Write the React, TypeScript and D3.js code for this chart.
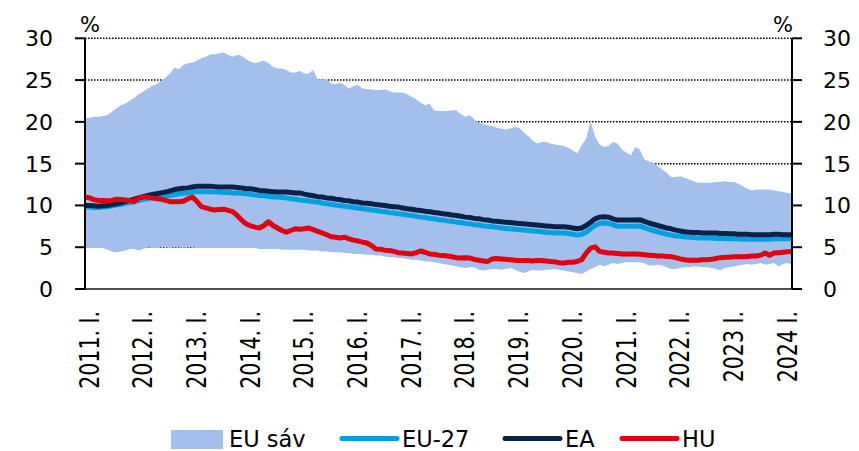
import * as d3 from 'd3';

// havi adatok, 2011. jan. – 2024. márc.
const tickLabels = [
  '2011. I.', '2012. I.', '2013. I.', '2014. I.', '2015. I.', '2016. I.', '2017. I.',
  '2018. I.', '2019. I.', '2020. I.', '2021. I.', '2022. I.', '2023 I.', '2024 I.',
];

const euUpper = [
  20.4, 20.5, 20.6, 20.6, 20.7, 20.8, 21.2, 21.6, 22.0, 22.2, 22.5, 22.9,
  23.3, 23.6, 24.0, 24.3, 24.5, 24.9, 25.3, 25.8, 26.5, 26.3, 26.8, 27.0,
  27.1, 27.3, 27.6, 27.8, 28.1, 28.1, 28.2, 28.3, 28.0, 27.8, 28.0, 27.9,
  27.5, 27.2, 27.0, 27.2, 27.3, 27.0, 26.6, 26.4, 26.4, 26.2, 25.9, 25.9,
  26.1, 25.8, 25.8, 26.2, 25.1, 25.0, 25.2, 24.6, 24.5, 24.7, 24.4, 24.0,
  24.3, 24.4, 24.0, 23.9, 23.9, 23.8, 23.8, 23.9, 23.7, 23.5, 23.5, 23.5,
  23.3, 23.0, 22.7, 22.3, 22.0, 22.2, 21.4, 21.3, 21.3, 21.3, 21.4, 21.4,
  20.9, 20.6, 20.8, 20.3, 19.9, 19.7, 19.6, 19.5, 19.3, 19.2, 19.1, 19.2,
  19.4, 19.3, 18.8, 18.3, 17.8, 17.4, 17.6, 17.6, 17.4, 17.3, 17.2, 17.1,
  16.9, 16.6, 16.2, 17.2, 18.0, 20.1, 18.2, 17.3, 17.0, 17.1, 17.6, 17.4,
  16.7, 16.3, 16.0, 17.0, 16.7, 15.5, 15.3, 15.1, 14.7, 14.3, 13.9, 13.4,
  13.4, 13.5, 13.3, 13.1, 12.9, 12.7, 12.7, 12.7, 12.7, 12.8, 12.8, 12.9,
  12.8, 12.8, 12.6, 12.3, 12.0, 11.8, 11.9, 11.9, 11.9, 11.9, 11.8, 11.7,
  11.6, 11.5, 11.4,
];

const euLower = [
  4.9, 4.9, 4.9, 4.9, 4.9, 4.7, 4.5, 4.4, 4.5, 4.6, 4.8, 4.8,
  4.6, 4.8, 5.0, 4.9, 4.9, 5.0, 5.0, 4.9, 5.0, 5.0, 4.9, 5.0,
  5.0, 4.9, 4.9, 4.9, 4.9, 4.9, 4.9, 4.9, 4.9, 4.9, 4.9, 4.9,
  4.9, 4.9, 4.9, 4.8, 4.8, 4.8, 4.8, 4.8, 4.7, 4.7, 4.7, 4.7,
  4.7, 4.7, 4.6, 4.6, 4.6, 4.5, 4.5, 4.4, 4.4, 4.4, 4.3, 4.3,
  4.2, 4.2, 4.2, 4.1, 4.1, 4.0, 4.0, 3.9, 3.8, 3.8, 3.7, 3.7,
  3.6, 3.5, 3.5, 3.4, 3.3, 3.3, 3.2, 3.1, 3.0, 2.9, 2.8, 2.7,
  2.6, 2.5, 2.6, 2.6, 2.3, 2.2, 2.3, 2.4, 2.4, 2.3, 2.4, 2.5,
  2.3, 2.1, 1.9, 2.1, 2.3, 2.2, 2.2, 2.3, 2.3, 2.4, 2.3, 2.2,
  2.1, 2.0, 1.9, 1.8, 2.1, 2.4, 2.6, 2.9, 2.7, 2.9, 3.1, 3.0,
  3.1, 3.2, 3.2, 3.2, 3.2, 3.1, 2.8, 2.8, 2.9, 2.8, 2.6, 2.4,
  2.4, 2.5, 2.6, 2.6, 2.7, 2.7, 2.6, 2.6, 2.5, 2.4, 2.2, 2.5,
  2.6, 2.7, 2.8, 2.9, 3.0, 2.9, 3.0, 3.1, 2.9, 3.0, 3.1, 2.7,
  3.0, 3.1, 2.9,
];

const eu27 = [
  9.8, 9.8, 9.75, 9.75, 9.8, 9.85, 9.95, 10.05, 10.15, 10.25, 10.35, 10.45,
  10.6, 10.7, 10.8, 10.9, 10.95, 11.05, 11.15, 11.2, 11.3, 11.4, 11.45, 11.5,
  11.6, 11.65, 11.65, 11.65, 11.65, 11.6, 11.6, 11.55, 11.55, 11.5, 11.5, 11.45,
  11.4, 11.35, 11.25, 11.2, 11.15, 11.1, 11.0, 11.0, 10.95, 10.9, 10.8, 10.75,
  10.65, 10.6, 10.55, 10.45, 10.4, 10.3, 10.2, 10.15, 10.05, 10.0, 9.9, 9.85,
  9.75, 9.7, 9.6, 9.55, 9.45, 9.4, 9.3, 9.25, 9.15, 9.1, 9.0, 8.95,
  8.85, 8.8, 8.7, 8.6, 8.55, 8.45, 8.4, 8.3, 8.25, 8.15, 8.1, 8.0,
  7.95, 7.85, 7.8, 7.7, 7.65, 7.55, 7.5, 7.45, 7.4, 7.3, 7.25, 7.2,
  7.15, 7.1, 7.05, 7.0, 6.95, 6.9, 6.85, 6.8, 6.75, 6.7, 6.7, 6.7,
  6.65, 6.55, 6.45, 6.55, 6.8, 7.2, 7.6, 7.85, 7.9, 7.85, 7.7, 7.5,
  7.5, 7.5, 7.5, 7.5, 7.55, 7.35, 7.15, 7.0, 6.85, 6.7, 6.55, 6.45,
  6.35, 6.3, 6.25, 6.2, 6.15, 6.1, 6.1, 6.1, 6.1, 6.05, 6.05, 6.05,
  6.0, 6.0, 6.0, 5.95, 5.95, 5.95, 5.95, 5.95, 5.95, 5.95, 6.0, 6.0,
  6.0, 6.0, 6.05,
];

const ea = [
  10.0, 10.0, 9.95, 9.9, 9.95, 10.0, 10.1, 10.2, 10.3, 10.45, 10.6, 10.75,
  10.9, 11.05, 11.2, 11.3, 11.4, 11.5, 11.6, 11.75, 11.9, 12.0, 12.05, 12.1,
  12.2, 12.3, 12.3, 12.3, 12.3, 12.25, 12.2, 12.2, 12.2, 12.2, 12.15, 12.1,
  12.0, 12.0, 11.9, 11.8, 11.75, 11.7, 11.65, 11.6, 11.6, 11.6, 11.55, 11.5,
  11.5, 11.35, 11.25, 11.15, 11.05, 11.0, 10.9, 10.85, 10.75, 10.7, 10.6, 10.55,
  10.45, 10.4, 10.3, 10.25, 10.2, 10.1, 10.05, 10.0, 9.9, 9.85, 9.8, 9.7,
  9.6, 9.55, 9.45, 9.4, 9.3, 9.25, 9.15, 9.1, 9.0, 8.95, 8.85, 8.8,
  8.7, 8.6, 8.55, 8.45, 8.4, 8.3, 8.25, 8.15, 8.1, 8.05, 8.0, 7.95,
  7.9, 7.85, 7.8, 7.75, 7.7, 7.65, 7.6, 7.55, 7.5, 7.45, 7.45, 7.45,
  7.4, 7.3, 7.2, 7.3, 7.6, 8.0, 8.4, 8.6, 8.65, 8.6, 8.4, 8.25,
  8.25, 8.25, 8.25, 8.25, 8.3, 8.1, 7.9, 7.75, 7.6, 7.45, 7.3, 7.2,
  7.05, 6.95, 6.85, 6.8, 6.75, 6.75, 6.7, 6.7, 6.7, 6.7, 6.65, 6.65,
  6.6, 6.6, 6.55, 6.55, 6.55, 6.5, 6.5, 6.5, 6.5, 6.5, 6.55, 6.55,
  6.5, 6.5, 6.5,
];

const hu = [
  11.0, 10.9, 10.7, 10.6, 10.6, 10.55, 10.6, 10.75, 10.7, 10.65, 10.6, 10.45,
  10.9, 11.0, 11.0, 10.9, 10.8, 10.75, 10.6, 10.45, 10.45, 10.45, 10.5, 10.8,
  11.0, 10.5, 9.85, 9.7, 9.55, 9.45, 9.5, 9.55, 9.4, 9.25, 8.8, 8.25,
  7.8, 7.55, 7.4, 7.3, 7.6, 8.05, 7.6, 7.3, 7.0, 6.8, 7.0, 7.2,
  7.15, 7.2, 7.3, 7.1, 6.9, 6.7, 6.5, 6.25, 6.2, 6.1, 6.2, 6.0,
  5.85, 5.75, 5.6, 5.5, 5.2, 4.8, 4.75, 4.65, 4.6, 4.5, 4.35, 4.3,
  4.25, 4.2, 4.35, 4.55, 4.4, 4.2, 4.15, 4.05, 4.0, 3.95, 3.85, 3.75,
  3.7, 3.75, 3.7, 3.55, 3.45, 3.35, 3.3, 3.6, 3.65, 3.6, 3.55, 3.5,
  3.45, 3.4, 3.4, 3.4, 3.35, 3.4, 3.4, 3.35, 3.3, 3.25, 3.15, 3.1,
  3.2, 3.2, 3.3, 3.5, 4.3, 4.9, 5.05, 4.5, 4.4, 4.3, 4.3, 4.25,
  4.2, 4.2, 4.2, 4.2, 4.15, 4.1, 4.05, 4.0, 3.95, 3.95, 3.9, 3.85,
  3.75, 3.6, 3.5, 3.45, 3.45, 3.45, 3.5, 3.5, 3.55, 3.65, 3.75, 3.8,
  3.8, 3.85, 3.85, 3.85, 3.9, 3.95, 3.95, 4.05, 4.3, 4.05, 4.3, 4.35,
  4.4, 4.45, 4.5,
];

const legendItems = [
  {label: 'EU sáv', color: '#a5bfec', kind: 'area'},
  {label: 'EU-27', color: '#00a0e3', kind: 'line'},
  {label: 'EA', color: '#0c2148', kind: 'line'},
  {label: 'HU', color: '#e1000f', kind: 'line'},
];

const font = '"DejaVu Sans", sans-serif';

const App = () => {
  const width = 859;
  const height = 451;
  const left = 85;
  const right = 792;
  const bottom = 289;
  const top = 38.3;

  const x = d3.scaleLinear().domain([0, euUpper.length - 1]).range([left, right]);
  const y = d3.scaleLinear().domain([0, 30]).range([bottom, top]);
  const yTicks = y.ticks(6);

  const idx = euUpper.map((_, i) => i);
  const band = d3.area<number>()
    .x(i => x(i))
    .y0(i => y(euLower[i]))
    .y1(i => y(euUpper[i]))(idx);
  const line = d3.line<number>().x((_, i) => x(i)).y(d => y(d));

  const legendX = [171, 342, 505, 622];
  const legendY = 438.5;

  return (
    <svg width={width} height={height} style={{position: 'absolute', left: 0, top: 0, background: '#fff'}}
         fontFamily={font}>
      {/* grid */}
      {yTicks.filter(t => t > 0).map(t => (
        <line key={t} x1={left} x2={right} y1={y(t)} y2={y(t)}
              stroke="#000" strokeWidth={1.5} strokeDasharray="1.5 1.5"/>
      ))}

      <path d={band ?? ''} fill="#a5bfec"/>
      <path d={line(eu27) ?? ''} fill="none" stroke="#00a0e3" strokeWidth={5} strokeLinejoin="round"/>
      <path d={line(ea) ?? ''} fill="none" stroke="#0c2148" strokeWidth={5} strokeLinejoin="round"/>
      <path d={line(hu) ?? ''} fill="none" stroke="#e1000f" strokeWidth={5} strokeLinejoin="round"/>

      {/* axes */}
      <line x1={left - 10} x2={right + 10} y1={bottom} y2={bottom} stroke="#505050" strokeWidth={2}/>
      <line x1={left} x2={left} y1={top} y2={bottom} stroke="#000" strokeWidth={2}/>
      <line x1={right} x2={right} y1={top} y2={bottom} stroke="#000" strokeWidth={2}/>
      {yTicks.map(t => (
        <g key={t}>
          <line x1={left - 10} x2={left} y1={y(t)} y2={y(t)} stroke="#000" strokeWidth={2}/>
          <line x1={right} x2={right + 10} y1={y(t)} y2={y(t)} stroke="#000" strokeWidth={2}/>
          <text x={53} y={y(t)} dy="0.36em" textAnchor="end" fontSize={22}>{t}</text>
          <text x={823} y={y(t)} dy="0.36em" textAnchor="start" fontSize={22}>{t}</text>
        </g>
      ))}
      <text x={80} y={32} fontSize={21}>%</text>
      <text x={773} y={32} fontSize={21}>%</text>

      {tickLabels.map((lab, i) => (
        <text key={lab} transform={`translate(${x(i * 12) + 4},311) scale(1.3,1) rotate(-90)`}
              dy="0.36em" textAnchor="end" fontSize={20.5}>{lab}</text>
      ))}

      {/* legend */}
      {legendItems.map((it, i) => (
        <g key={it.label}>
          {it.kind === 'area'
            ? <rect x={legendX[i]} y={430} width={52} height={19} fill={it.color}/>
            : <line x1={legendX[i]} x2={legendX[i] + 55} y1={legendY} y2={legendY}
                    stroke={it.color} strokeWidth={5} strokeLinecap="round"/>}
          <text x={legendX[i] + (it.kind === 'area' ? 58 : 60)} y={legendY} dy="0.36em" fontSize={22.5}>
            {it.label}
          </text>
        </g>
      ))}
    </svg>
  );
};

export default App;
